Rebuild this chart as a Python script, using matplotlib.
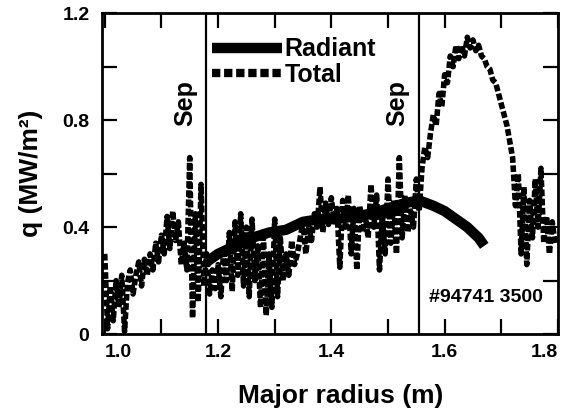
import numpy as np
import matplotlib
matplotlib.use("Agg")
import matplotlib.pyplot as plt
from matplotlib.lines import Line2D

plt.rcParams['font.family'] = ['Liberation Sans', 'DejaVu Sans']
plt.rcParams['font.weight'] = 'bold'
plt.rcParams['axes.labelweight'] = 'bold'

# radiant heat flux (smooth curve)
radiant_r = [1.18, 1.20, 1.23, 1.26, 1.29, 1.32, 1.35, 1.38, 1.41, 1.44,
             1.47, 1.50, 1.53, 1.555, 1.58, 1.60, 1.62, 1.64, 1.66, 1.67]
radiant_q = [0.27, 0.30, 0.33, 0.36, 0.38, 0.39, 0.42, 0.43, 0.43, 0.44,
             0.45, 0.47, 0.49, 0.50, 0.48, 0.46, 0.43, 0.40, 0.36, 0.33]

# total heat flux, one value every 5 mm from 1.000 to 1.800 m
total_r0, total_dr = 1.0, 0.005
total_q = [
    0.30, 0.02, 0.18, 0.05, 0.20, 0.10, 0.22, 0.01, 0.19, 0.24,   # 1.00
    0.15, 0.22, 0.27, 0.18, 0.28, 0.22, 0.30, 0.24, 0.34, 0.27,   # 1.05
    0.37, 0.30, 0.44, 0.32, 0.46, 0.35, 0.42, 0.26, 0.34, 0.24,   # 1.10
    0.66, 0.06, 0.45, 0.12, 0.56, 0.18, 0.30, 0.15, 0.24, 0.17,   # 1.15
    0.26, 0.14, 0.32, 0.20, 0.38, 0.16, 0.42, 0.22, 0.45, 0.18,   # 1.20
    0.40, 0.14, 0.43, 0.20, 0.33, 0.10, 0.38, 0.07, 0.30, 0.10,   # 1.25
    0.43, 0.14, 0.36, 0.20, 0.30, 0.22, 0.35, 0.26, 0.30, 0.36,   # 1.30
    0.42, 0.30, 0.40, 0.35, 0.45, 0.40, 0.55, 0.38, 0.49, 0.41,   # 1.35
    0.51, 0.42, 0.47, 0.25, 0.50, 0.40, 0.52, 0.30, 0.47, 0.24,   # 1.40
    0.48, 0.38, 0.44, 0.36, 0.56, 0.40, 0.52, 0.24, 0.44, 0.30,   # 1.45
    0.58, 0.34, 0.50, 0.30, 0.66, 0.36, 0.52, 0.38, 0.46, 0.40,   # 1.50
    0.58, 0.46, 0.62, 0.70, 0.66, 0.75, 0.82, 0.78, 0.90, 0.85,   # 1.55
    0.97, 0.94, 1.04, 1.00, 1.08, 1.03, 1.08, 1.04, 1.11, 1.07,   # 1.60
    1.10, 1.06, 1.08, 1.04, 1.03, 1.00, 0.99, 0.95, 0.94, 0.90,   # 1.65
    0.86, 0.82, 0.78, 0.72, 0.66, 0.48, 0.60, 0.30, 0.55, 0.26,   # 1.70
    0.50, 0.36, 0.58, 0.40, 0.62, 0.34, 0.44, 0.30, 0.42, 0.34,   # 1.75
    0.36,                                                         # 1.80
]
total_r = total_r0 + total_dr * np.arange(len(total_q))

sep_r = [1.179, 1.555]
shot_label = "#94741 3500"

xticks = [1.0, 1.1, 1.2, 1.3, 1.4, 1.5, 1.6, 1.7, 1.8]
xticklabels = ["1.0", "", "1.2", "", "1.4", "", "1.6", "", "1.8"]
yticks = [0, 0.2, 0.4, 0.6, 0.8, 1.0, 1.2]
yticklabels = ["0", "", "0.4", "", "0.8", "", "1.2"]

fig = plt.figure(figsize=(5.63, 4.12), dpi=100)
ax = fig.add_axes([0.181, 0.189, 0.810, 0.779])

ax.plot(total_r, total_q, color='black', lw=4, linestyle=(0, (1.2, 0.45)),
        zorder=2)
ax.plot(radiant_r, radiant_q, color='black', lw=7.5, solid_capstyle='butt',
        zorder=3)
for r in sep_r:
    ax.axvline(r, color='black', lw=1.6, zorder=1)

ax.text(1.142, 0.865, "Sep", rotation=90, ha='center', va='center', fontsize=18)
ax.text(1.516, 0.865, "Sep", rotation=90, ha='center', va='center', fontsize=18)
ax.text(1.573, 0.138, shot_label, ha='left', va='center', fontsize=14)

handles = [Line2D([], [], color='black', lw=7.5, solid_capstyle='butt'),
           Line2D([], [], color='black', lw=6, linestyle=(0, (1.0, 0.45)))]
ax.legend(handles, ["Radiant", "Total"], loc='upper left',
          bbox_to_anchor=(0.241, 0.925), frameon=False, fontsize=18,
          handlelength=2.8, handletextpad=0.12, labelspacing=0.05,
          borderpad=0, borderaxespad=0)

ax.set_xlim(0.995, 1.80)
ax.set_ylim(0, 1.2)
ax.set_xticks(xticks)
ax.set_xticklabels(xticklabels, fontsize=14)
ax.set_yticks(yticks)
ax.set_yticklabels(yticklabels, fontsize=14)
lbls = ax.get_xticklabels()
lbls[0].set_horizontalalignment('left')
lbls[-1].set_horizontalalignment('right')

ax.tick_params(direction='in', length=11, width=1.6, top=True, right=True,
               pad=7)
ax.tick_params(axis='y', pad=9)
for s in ax.spines.values():
    s.set_linewidth(2)

ax.set_xlabel("Major radius (m)", fontsize=19)
ax.xaxis.set_label_coords(0.524, -0.155)
ax.set_ylabel("q (MW/m²)", fontsize=19)
ax.yaxis.set_label_coords(-0.13, 0.5)

fig.savefig("out.png", dpi=100)
